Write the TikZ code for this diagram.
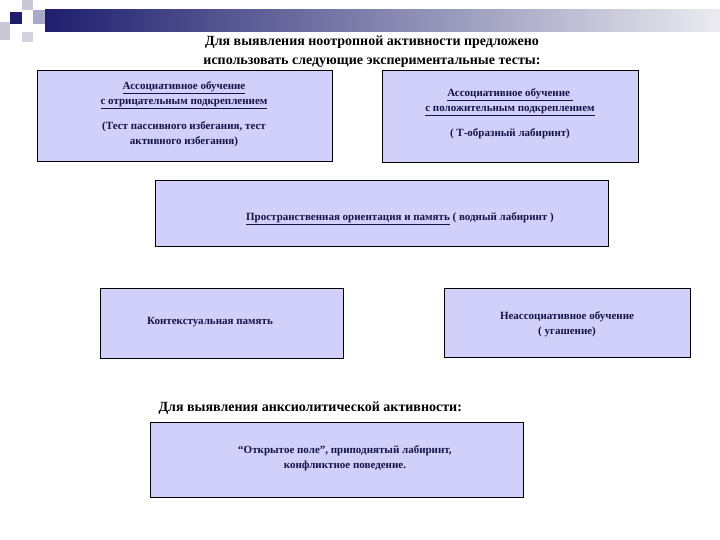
\documentclass[tikz,border=0pt]{standalone}
\usepackage{fontspec}
\setmainfont{Liberation Serif}
\definecolor{navy}{RGB}{30,30,110}
\definecolor{lgray}{RGB}{235,235,240}
\definecolor{sq1}{RGB}{200,200,215}
\definecolor{sq2}{RGB}{210,210,225}
\definecolor{sq3}{RGB}{170,170,200}
\definecolor{boxfill}{RGB}{208,208,250}
\definecolor{txtc}{RGB}{20,20,70}
\begin{document}
\begin{tikzpicture}[x=1pt,y=-1pt,
  box/.style={draw=black,line width=0.8pt,fill=boxfill},
  txt/.style={font=\bfseries\fontsize{11}{15}\selectfont,text=txtc,align=center},
  ttl/.style={font=\bfseries\fontsize{14}{19}\selectfont,align=center}]
\useasboundingbox (0,0) rectangle (720,540);
\shade[left color=navy,right color=lgray] (45,10) rectangle (720,32);
\fill[navy] (10,12) rectangle (22,24);
\fill[sq1] (22,0) rectangle (33,10);
\fill[sq1] (0,22) rectangle (10,40);
\fill[sq2] (22,32) rectangle (33,42);
\fill[sq3] (33,10) rectangle (45,24);
\node[ttl] (t1) at (372,52) {Для выявления ноотропной активности предложено\\использовать следующие экспериментальные тесты:};
\draw[box] (37,70) rectangle (332,161);
\node[txt] (b1) at (184,114) {\underline{Ассоциативное обучение}\\\underline{с отрицательным подкреплением}\\[10pt](Тест пассивного избегания, тест\\активного избегания)};
\draw[box] (382,70) rectangle (638,162);
\node[txt] (b2) at (510,114) {\underline{Ассоциативное обучение }\\\underline{с положительным подкреплением}\\[10pt]( Т-образный лабиринт)};
\draw[box] (155,180) rectangle (608,246);
\node[txt] (b3) at (400,219) {\underline{Пространственная ориентация и память} ( водный лабиринт )};
\draw[box] (100,288) rectangle (343,358);
\node[txt] (b4) at (210,322) {Контекстуальная память};
\draw[box] (444,288) rectangle (690,357);
\node[txt] (b5) at (567,324) {Неассоциативное обучение\\( угашение)};
\node[ttl,anchor=west] (t2) at (155,408) {Для выявления анксиолитической активности:};
\draw[box] (150,422) rectangle (523,497);
\node[txt] (b6) at (345,458) {“Открытое поле”, приподнятый лабиринт,\\конфликтное поведение.};
\end{tikzpicture}
\end{document}
